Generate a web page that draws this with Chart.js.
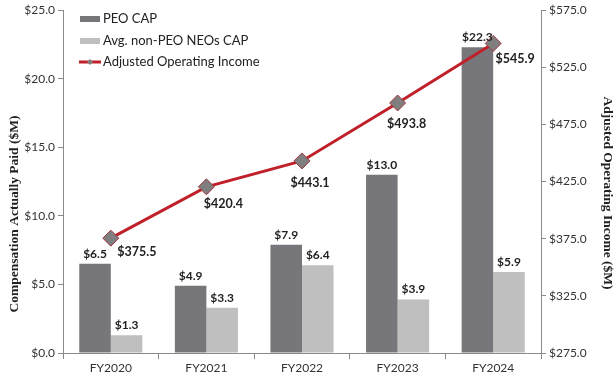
<!DOCTYPE html>
<html>
<head>
  <title>CAP vs Adjusted Operating Income</title>
  <script src="https://cdn.jsdelivr.net/npm/chart.js"></script>
  <style>
    body { margin:0; background:#fff; }
    #wrap { width:616px; height:376px; }
  </style>
</head>
<body>
  <div id="wrap"><canvas id="capChart" width="616" height="376"></canvas></div>
  <script>
    const years = ['FY2020', 'FY2021', 'FY2022', 'FY2023', 'FY2024'];
    const peoCap = [6.5, 4.9, 7.9, 13.0, 22.3];
    const neoCap = [1.3, 3.3, 6.4, 3.9, 5.9];
    const opIncome = [375.5, 420.4, 443.1, 493.8, 545.9];

    const RED = '#c0202a', DARK = '#77777b', LIGHT = '#bfbfbf', AXIS = '#8a8a8a';
    const tickFont = { family:'Lato, sans-serif', size:12 };
    const money = v => '$' + Number(v).toFixed(1);

    // where each line label sits relative to its point (dx, dy)
    const lineLabelShift = [[26, 14], [17, 17], [8, 22], [9, 21], [22, 16]];

    const valueLabels = {
      id: 'valueLabels',
      afterDatasetsDraw(chart) {
        const ctx = chart.ctx;
        ctx.save();
        ctx.font = 'bold 12px Lato, sans-serif';
        ctx.fillStyle = '#222';
        ctx.textAlign = 'center';
        ctx.textBaseline = 'bottom';
        [0, 1].forEach(di => {
          chart.getDatasetMeta(di).data.forEach((bar, i) => {
            ctx.fillText(money(chart.data.datasets[di].data[i]), bar.x, bar.y - 4);
          });
        });
        ctx.font = 'bold 12.5px Lato, sans-serif';
        ctx.textBaseline = 'middle';
        chart.getDatasetMeta(2).data.forEach((pt, i) => {
          const [dx, dy] = lineLabelShift[i];
          ctx.fillText(money(opIncome[i]), pt.x + dx, pt.y + dy);
        });
        ctx.restore();
      }
    };

    // legend inside plot (top-left) and the two rotated axis titles
    const extras = {
      id: 'extras',
      afterDraw(chart) {
        const ctx = chart.ctx;
        const x = chart.chartArea.left + 17;
        ctx.save();
        ctx.font = '13px Lato, sans-serif';
        ctx.textBaseline = 'middle';
        ctx.fillStyle = DARK; ctx.fillRect(x, 16, 20, 6);
        ctx.fillStyle = LIGHT; ctx.fillRect(x, 38, 20, 6);
        ctx.strokeStyle = RED; ctx.lineWidth = 3;
        ctx.beginPath(); ctx.moveTo(x - 1, 62); ctx.lineTo(x + 21, 62); ctx.stroke();
        ctx.fillStyle = '#7f7f7f';
        ctx.beginPath(); ctx.moveTo(x + 10, 59); ctx.lineTo(x + 13, 62); ctx.lineTo(x + 10, 65); ctx.lineTo(x + 7, 62); ctx.closePath(); ctx.fill();
        ctx.fillStyle = '#222';
        ctx.fillText('PEO CAP', x + 23, 19);
        ctx.fillText('Avg. non-PEO NEOs CAP', x + 23, 41);
        ctx.fillText('Adjusted Operating Income', x + 23, 62);

        ctx.font = 'bold 13.5px "Liberation Serif", serif';
        ctx.textAlign = 'center';
        ctx.save();
        ctx.translate(15, 214); ctx.rotate(-Math.PI / 2);
        ctx.fillText('Compensation Actually Paid ($M)', 0, 0);
        ctx.restore();
        ctx.save();
        ctx.translate(607, 193); ctx.rotate(Math.PI / 2);
        ctx.fillText('Adjusted Operating Income ($M)', 0, 0);
        ctx.restore();
        ctx.restore();
      }
    };

    new Chart(document.getElementById('capChart'), {
      type: 'bar',
      data: {
        labels: years,
        datasets: [
          { label:'PEO CAP', data: peoCap, backgroundColor: DARK, yAxisID:'y', order:2,
            categoryPercentage:0.66, barPercentage:1.0 },
          { label:'Avg. non-PEO NEOs CAP', data: neoCap, backgroundColor: LIGHT, yAxisID:'y', order:2,
            categoryPercentage:0.66, barPercentage:1.0 },
          { type:'line', label:'Adjusted Operating Income', data: opIncome, yAxisID:'y1', order:1,
            borderColor: RED, borderWidth:3, pointStyle:'rectRot', pointRadius:8, pointHoverRadius:8,
            pointBackgroundColor:'#7f7f7f', pointBorderColor:'#a0343c', pointBorderWidth:1 }
        ]
      },
      options: {
        responsive:false,
        animation:false,
        layout: { padding: { top:8, right:0, left:0, bottom:0 } },
        plugins: { legend:{ display:false }, tooltip:{ enabled:false } },
        scales: {
          x: {
            grid: { drawOnChartArea:false, drawTicks:true, tickLength:6, color:AXIS },
            border: { color:AXIS },
            ticks: { font:tickFont, color:'#333', padding:2 },
            afterFit: s => { s.height = 23; }
          },
          y: {
            position:'left', min:0, max:25,
            grid: { drawOnChartArea:false, drawTicks:true, tickLength:5, color:AXIS },
            border: { color:AXIS },
            ticks: { stepSize:5, font:tickFont, color:'#333', padding:3, callback: v => money(v) },
            afterFit: s => { s.width = 63; }
          },
          y1: {
            position:'right', min:275, max:575,
            grid: { drawOnChartArea:false, drawTicks:true, tickLength:5, color:AXIS },
            border: { color:AXIS },
            ticks: { stepSize:50, font:tickFont, color:'#333', padding:3, callback: v => money(v) },
            afterFit: s => { s.width = 75; }
          }
        }
      },
      plugins: [valueLabels, extras]
    });
  </script>
</body>
</html>
